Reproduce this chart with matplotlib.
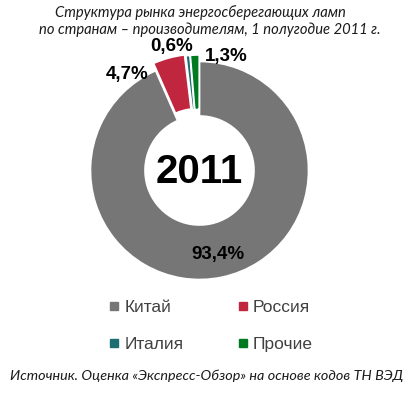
import matplotlib
matplotlib.use("Agg")
import matplotlib.pyplot as plt
from matplotlib.lines import Line2D

categories = ["Китай", "Россия", "Италия", "Прочие"]
values = [93.4, 4.7, 0.6, 1.3]
labels = ["93,4%", "4,7%", "0,6%", "1,3%"]
colors = ["#767676", "#C1263F", "#1B6F72", "#007A20"]
center_text = "2011"
title_lines = ["Структура рынка энергосберегающих ламп",
               "по странам – производителям, 1 полугодие 2011 г."]
source = "Источник. Оценка «Экспресс-Обзор» на основе кодов ТН ВЭД"

W, H = 415, 393
fig = plt.figure(figsize=(W / 100, H / 100), dpi=100)
fig.patch.set_facecolor("white")

cx, cy, R = 199.5, 170.5, 109
ax = fig.add_axes([(cx - R) / W, 1 - (cy + R) / H, 2 * R / W, 2 * R / H])

explode = [0, 0.07, 0.06, 0.06]
wedges, _ = ax.pie(values, colors=colors, startangle=90, counterclock=False,
                   explode=explode, radius=1.0,
                   wedgeprops=dict(width=0.5, edgecolor="white", linewidth=1.2))
for w in wedges:
    w.set_clip_on(False)
ax.set_xlim(-1, 1)
ax.set_ylim(-1, 1)
ax.set_aspect("equal")
ax.axis("off")

label_pos = [(0.17, -0.77), (-0.66, 0.88), (-0.26, 1.14), (0.25, 1.05)]
for (x, y), t in zip(label_pos, labels):
    ax.text(x, y, t, ha="center", va="center", fontsize=13.5, fontweight="bold",
            family="Liberation Sans", color="black", clip_on=False)

ax.text(0, -0.01, center_text, ha="center", va="center", fontsize=29,
        fontweight="bold", family="Liberation Sans", color="black")

fig.text(200 / W, 1 - 13 / H, title_lines[0], ha="center", va="center",
         fontsize=10.6, style="italic", family="Lato", color="#1a1a1a")
fig.text(210 / W, 1 - 30 / H, title_lines[1], ha="center", va="center",
         fontsize=10.6, style="italic", family="Lato", color="#1a1a1a")

handles = [Line2D([0], [0], marker="s", linestyle="none", markersize=6,
                  markerfacecolor=c, markeredgecolor=c) for c in colors]
order = [0, 2, 1, 3]
leg = fig.legend([handles[i] for i in order], [categories[i] for i in order],
                 ncol=2, loc="center",
                 bbox_to_anchor=(211 / W, 1 - 326 / H), frameon=False,
                 prop=dict(family="Liberation Sans", size=12.5),
                 handlelength=0.6, handletextpad=0.3, columnspacing=3.1,
                 labelspacing=1.25)
for t in leg.get_texts():
    t.set_color("#404040")

fig.text(207 / W, 1 - 376 / H, source, ha="center", va="center",
         fontsize=10.4, style="italic", family="Lato", color="#1a1a1a")

fig.savefig("out.png", dpi=100, facecolor="white")
